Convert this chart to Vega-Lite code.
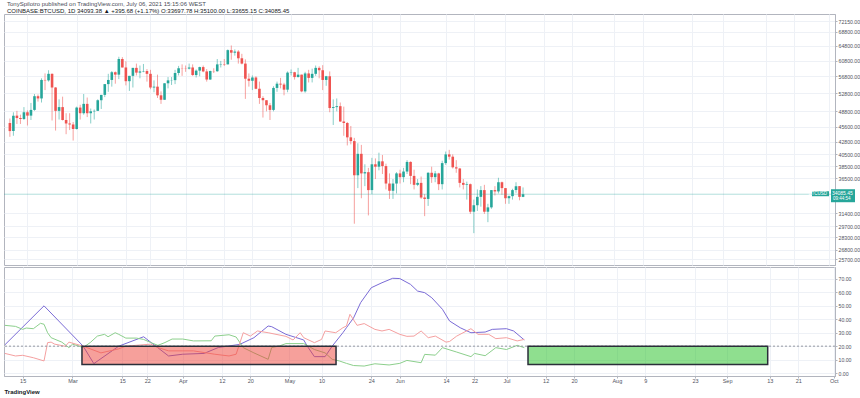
{
  "$schema": "https://vega.github.io/schema/vega-lite/v6.json",
  "background": "white",
  "padding": {"left": 2, "top": 0, "right": 0, "bottom": 0},
  "spacing": 0,
  "config": {
    "font": "Liberation Sans",
    "view": {"stroke": "#b2b5be", "strokeWidth": 1},
    "axis": {"labelFont": "Liberation Sans", "titleFont": "Liberation Sans", "gridColor": "#eef1f6", "gridWidth": 1, "domainColor": "#b2b5be", "tickColor": "#b2b5be", "labelColor": "#50535e", "labelFontSize": 5.2, "labelOverlap": false}
  },
  "title": {
    "text": "TonySpilotro published on TradingView.com, July 06, 2021 15:15:06 WEST",
    "subtitle": "COINBASE:BTCUSD, 1D  34093.38 ▲ +395.68 (+1.17%)  O:33697.78  H:35100.00  L:33655.15  C:34085.45",
    "anchor": "start",
    "frame": "group",
    "fontSize": 6,
    "subtitleFontSize": 6,
    "fontWeight": "normal",
    "color": "#4a4e59",
    "subtitleColor": "#131722",
    "offset": 0,
    "subtitlePadding": 1,
    "dx": 3
  },
  "datasets": {
    "candles": [
      {"d":"2021-02-10","o":46400,"h":47300,"l":43700,"c":44800},
      {"d":"2021-02-11","o":44800,"h":48600,"l":43900,"c":47900},
      {"d":"2021-02-12","o":47900,"h":48900,"l":46200,"c":47400},
      {"d":"2021-02-13","o":47400,"h":48100,"l":46200,"c":47200},
      {"d":"2021-02-14","o":47200,"h":49700,"l":47000,"c":48600},
      {"d":"2021-02-15","o":48600,"h":49000,"l":45900,"c":47900},
      {"d":"2021-02-16","o":47900,"h":50600,"l":47000,"c":49100},
      {"d":"2021-02-17","o":49100,"h":52600,"l":48900,"c":52100},
      {"d":"2021-02-18","o":52100,"h":52500,"l":50900,"c":51600},
      {"d":"2021-02-19","o":51600,"h":56300,"l":50700,"c":55900},
      {"d":"2021-02-20","o":55900,"h":57500,"l":53500,"c":55800},
      {"d":"2021-02-21","o":55800,"h":58300,"l":55500,"c":57400},
      {"d":"2021-02-22","o":57400,"h":57500,"l":46900,"c":54100},
      {"d":"2021-02-23","o":54100,"h":54200,"l":44900,"c":48900},
      {"d":"2021-02-24","o":48900,"h":51400,"l":47100,"c":49700},
      {"d":"2021-02-25","o":49700,"h":52000,"l":46900,"c":47000},
      {"d":"2021-02-26","o":47000,"h":48400,"l":44200,"c":46300},
      {"d":"2021-02-27","o":46300,"h":48400,"l":45000,"c":46100},
      {"d":"2021-02-28","o":46100,"h":46600,"l":43000,"c":45200},
      {"d":"2021-03-01","o":45200,"h":49800,"l":45100,"c":49600},
      {"d":"2021-03-02","o":49600,"h":50200,"l":47100,"c":48400},
      {"d":"2021-03-03","o":48400,"h":52600,"l":48100,"c":50400},
      {"d":"2021-03-04","o":50400,"h":51800,"l":47600,"c":48400},
      {"d":"2021-03-05","o":48400,"h":49400,"l":46300,"c":48800},
      {"d":"2021-03-06","o":48800,"h":49200,"l":47100,"c":48900},
      {"d":"2021-03-07","o":48900,"h":51400,"l":48900,"c":51200},
      {"d":"2021-03-08","o":51200,"h":52400,"l":49300,"c":52400},
      {"d":"2021-03-09","o":52400,"h":54900,"l":51900,"c":54900},
      {"d":"2021-03-10","o":54900,"h":57400,"l":53100,"c":55900},
      {"d":"2021-03-11","o":55900,"h":58100,"l":54300,"c":57800},
      {"d":"2021-03-12","o":57800,"h":58000,"l":55000,"c":57200},
      {"d":"2021-03-13","o":57200,"h":61800,"l":56100,"c":61200},
      {"d":"2021-03-14","o":61200,"h":61700,"l":59000,"c":59000},
      {"d":"2021-03-15","o":59000,"h":60600,"l":54600,"c":55600},
      {"d":"2021-03-16","o":55600,"h":56900,"l":53300,"c":56900},
      {"d":"2021-03-17","o":56900,"h":58900,"l":54100,"c":58900},
      {"d":"2021-03-18","o":58900,"h":60000,"l":57000,"c":57700},
      {"d":"2021-03-19","o":57700,"h":59500,"l":56300,"c":58000},
      {"d":"2021-03-20","o":58000,"h":59900,"l":57800,"c":58100},
      {"d":"2021-03-21","o":58100,"h":58600,"l":55500,"c":57400},
      {"d":"2021-03-22","o":57400,"h":58400,"l":53700,"c":54100},
      {"d":"2021-03-23","o":54100,"h":55800,"l":53000,"c":54300},
      {"d":"2021-03-24","o":54300,"h":57200,"l":51700,"c":52300},
      {"d":"2021-03-25","o":52300,"h":53200,"l":50400,"c":51300},
      {"d":"2021-03-26","o":51300,"h":55100,"l":51300,"c":55100},
      {"d":"2021-03-27","o":55100,"h":56600,"l":53900,"c":55800},
      {"d":"2021-03-28","o":55800,"h":56600,"l":54700,"c":55850},
      {"d":"2021-03-29","o":55850,"h":58400,"l":54900,"c":57600},
      {"d":"2021-03-30","o":57600,"h":59400,"l":57000,"c":58800},
      {"d":"2021-03-31","o":58800,"h":59800,"l":56900,"c":58750},
      {"d":"2021-04-01","o":58750,"h":59500,"l":57900,"c":58700},
      {"d":"2021-04-02","o":58700,"h":60000,"l":58500,"c":59000},
      {"d":"2021-04-03","o":59000,"h":59800,"l":56900,"c":57100},
      {"d":"2021-04-04","o":57100,"h":58500,"l":56500,"c":58200},
      {"d":"2021-04-05","o":58200,"h":59200,"l":56800,"c":59100},
      {"d":"2021-04-06","o":59100,"h":59500,"l":57800,"c":58000},
      {"d":"2021-04-07","o":58000,"h":58600,"l":55500,"c":56000},
      {"d":"2021-04-08","o":56000,"h":58200,"l":55900,"c":58100},
      {"d":"2021-04-09","o":58100,"h":58800,"l":57600,"c":58050},
      {"d":"2021-04-10","o":58050,"h":61200,"l":57900,"c":59800},
      {"d":"2021-04-11","o":59800,"h":60700,"l":59000,"c":59900},
      {"d":"2021-04-12","o":59900,"h":61200,"l":59400,"c":59800},
      {"d":"2021-04-13","o":59800,"h":63800,"l":59800,"c":63600},
      {"d":"2021-04-14","o":63600,"h":64900,"l":61000,"c":62900},
      {"d":"2021-04-15","o":62900,"h":63800,"l":62100,"c":63200},
      {"d":"2021-04-16","o":63200,"h":63600,"l":60000,"c":61400},
      {"d":"2021-04-17","o":61400,"h":62600,"l":59800,"c":60000},
      {"d":"2021-04-18","o":60000,"h":61100,"l":51500,"c":56200},
      {"d":"2021-04-19","o":56200,"h":57500,"l":54300,"c":55700},
      {"d":"2021-04-20","o":55700,"h":57000,"l":53500,"c":56500},
      {"d":"2021-04-21","o":56500,"h":56800,"l":53700,"c":53800},
      {"d":"2021-04-22","o":53800,"h":55500,"l":50400,"c":51700},
      {"d":"2021-04-23","o":51700,"h":52100,"l":47500,"c":51200},
      {"d":"2021-04-24","o":51200,"h":51200,"l":48800,"c":50100},
      {"d":"2021-04-25","o":50100,"h":50600,"l":47000,"c":49100},
      {"d":"2021-04-26","o":49100,"h":54400,"l":48800,"c":54000},
      {"d":"2021-04-27","o":54000,"h":55500,"l":53100,"c":55000},
      {"d":"2021-04-28","o":55000,"h":56400,"l":53900,"c":54800},
      {"d":"2021-04-29","o":54800,"h":55200,"l":52300,"c":53600},
      {"d":"2021-04-30","o":53600,"h":58000,"l":53000,"c":57700},
      {"d":"2021-05-01","o":57700,"h":58500,"l":57000,"c":57800},
      {"d":"2021-05-02","o":57800,"h":57900,"l":56000,"c":56600},
      {"d":"2021-05-03","o":56600,"h":58900,"l":56500,"c":57200},
      {"d":"2021-05-04","o":57200,"h":57200,"l":53000,"c":53200},
      {"d":"2021-05-05","o":53200,"h":57900,"l":52900,"c":57500},
      {"d":"2021-05-06","o":57500,"h":58400,"l":55300,"c":56400},
      {"d":"2021-05-07","o":56400,"h":58700,"l":55300,"c":57400},
      {"d":"2021-05-08","o":57400,"h":59500,"l":56900,"c":58900},
      {"d":"2021-05-09","o":58900,"h":59300,"l":56300,"c":58300},
      {"d":"2021-05-10","o":58300,"h":59600,"l":53500,"c":55900},
      {"d":"2021-05-11","o":55900,"h":56900,"l":54500,"c":56800},
      {"d":"2021-05-12","o":56800,"h":58000,"l":48600,"c":49500},
      {"d":"2021-05-13","o":49500,"h":51400,"l":46000,"c":49700},
      {"d":"2021-05-14","o":49700,"h":51600,"l":48800,"c":49900},
      {"d":"2021-05-15","o":49900,"h":50700,"l":46600,"c":46700},
      {"d":"2021-05-16","o":46700,"h":49800,"l":43900,"c":46400},
      {"d":"2021-05-17","o":46400,"h":46600,"l":42100,"c":43600},
      {"d":"2021-05-18","o":43600,"h":45800,"l":42300,"c":42900},
      {"d":"2021-05-19","o":42900,"h":43500,"l":30000,"c":37000},
      {"d":"2021-05-20","o":37000,"h":42500,"l":35000,"c":40600},
      {"d":"2021-05-21","o":40600,"h":42200,"l":33500,"c":37300},
      {"d":"2021-05-22","o":37300,"h":38800,"l":35300,"c":37500},
      {"d":"2021-05-23","o":37500,"h":38200,"l":31100,"c":34700},
      {"d":"2021-05-24","o":34700,"h":39900,"l":34100,"c":38800},
      {"d":"2021-05-25","o":38800,"h":39800,"l":36400,"c":38400},
      {"d":"2021-05-26","o":38400,"h":40800,"l":37800,"c":39300},
      {"d":"2021-05-27","o":39300,"h":40400,"l":37200,"c":38500},
      {"d":"2021-05-28","o":38500,"h":38900,"l":34800,"c":35700},
      {"d":"2021-05-29","o":35700,"h":37300,"l":33400,"c":34600},
      {"d":"2021-05-30","o":34600,"h":36400,"l":33400,"c":35700},
      {"d":"2021-05-31","o":35700,"h":37500,"l":34200,"c":37300},
      {"d":"2021-06-01","o":37300,"h":37900,"l":35700,"c":36700},
      {"d":"2021-06-02","o":36700,"h":38200,"l":35900,"c":37600},
      {"d":"2021-06-03","o":37600,"h":39500,"l":37200,"c":39200},
      {"d":"2021-06-04","o":39200,"h":39300,"l":35600,"c":36900},
      {"d":"2021-06-05","o":36900,"h":37900,"l":34800,"c":35500},
      {"d":"2021-06-06","o":35500,"h":36400,"l":35300,"c":35800},
      {"d":"2021-06-07","o":35800,"h":36800,"l":33400,"c":33600},
      {"d":"2021-06-08","o":33600,"h":34100,"l":31000,"c":33400},
      {"d":"2021-06-09","o":33400,"h":37500,"l":32400,"c":37400},
      {"d":"2021-06-10","o":37400,"h":38400,"l":35800,"c":36700},
      {"d":"2021-06-11","o":36700,"h":37700,"l":35900,"c":37300},
      {"d":"2021-06-12","o":37300,"h":37400,"l":34700,"c":35600},
      {"d":"2021-06-13","o":35600,"h":39400,"l":34800,"c":39000},
      {"d":"2021-06-14","o":39000,"h":41000,"l":38700,"c":40500},
      {"d":"2021-06-15","o":40500,"h":41300,"l":39600,"c":40100},
      {"d":"2021-06-16","o":40100,"h":40500,"l":38100,"c":38300},
      {"d":"2021-06-17","o":38300,"h":39500,"l":37400,"c":38100},
      {"d":"2021-06-18","o":38100,"h":38200,"l":35100,"c":35800},
      {"d":"2021-06-19","o":35800,"h":36400,"l":34800,"c":35500},
      {"d":"2021-06-20","o":35500,"h":36000,"l":33300,"c":35600},
      {"d":"2021-06-21","o":35600,"h":35700,"l":31300,"c":31600},
      {"d":"2021-06-22","o":31600,"h":33300,"l":28800,"c":32500},
      {"d":"2021-06-23","o":32500,"h":34800,"l":31700,"c":33700},
      {"d":"2021-06-24","o":33700,"h":35300,"l":32300,"c":34700},
      {"d":"2021-06-25","o":34700,"h":35500,"l":31300,"c":31600},
      {"d":"2021-06-26","o":31600,"h":32700,"l":30200,"c":32200},
      {"d":"2021-06-27","o":32200,"h":34700,"l":32000,"c":34700},
      {"d":"2021-06-28","o":34700,"h":35300,"l":33900,"c":34500},
      {"d":"2021-06-29","o":34500,"h":36600,"l":34200,"c":35900},
      {"d":"2021-06-30","o":35900,"h":36000,"l":34000,"c":35000},
      {"d":"2021-07-01","o":35000,"h":35000,"l":32700,"c":33500},
      {"d":"2021-07-02","o":33500,"h":33900,"l":32700,"c":33800},
      {"d":"2021-07-03","o":33800,"h":34900,"l":33300,"c":34700},
      {"d":"2021-07-04","o":34700,"h":35900,"l":34300,"c":35300},
      {"d":"2021-07-05","o":35300,"h":35300,"l":33200,"c":33700},
      {"d":"2021-07-06","o":33697.78,"h":35100,"l":33655.15,"c":34085.45}
    ],
    "dmi": [
      {"date":"2021-02-10","s":"ADX","v":21},
      {"date":"2021-02-21","s":"ADX","v":50},
      {"date":"2021-03-04","s":"ADX","v":20},
      {"date":"2021-03-07","s":"ADX","v":7},
      {"date":"2021-03-14","s":"ADX","v":20},
      {"date":"2021-03-21","s":"ADX","v":27},
      {"date":"2021-03-28","s":"ADX","v":12.7},
      {"date":"2021-04-01","s":"ADX","v":14},
      {"date":"2021-04-07","s":"ADX","v":14.6},
      {"date":"2021-04-11","s":"ADX","v":19},
      {"date":"2021-04-17","s":"ADX","v":21.3},
      {"date":"2021-04-21","s":"ADX","v":26.3},
      {"date":"2021-04-25","s":"ADX","v":35},
      {"date":"2021-04-26","s":"ADX","v":34.5},
      {"date":"2021-04-30","s":"ADX","v":28.8},
      {"date":"2021-05-05","s":"ADX","v":24.6},
      {"date":"2021-05-06","s":"ADX","v":20},
      {"date":"2021-05-08","s":"ADX","v":12.2},
      {"date":"2021-05-11","s":"ADX","v":12.2},
      {"date":"2021-05-13","s":"ADX","v":20},
      {"date":"2021-05-16","s":"ADX","v":30},
      {"date":"2021-05-17","s":"ADX","v":33.7},
      {"date":"2021-05-19","s":"ADX","v":41},
      {"date":"2021-05-21","s":"ADX","v":52.4},
      {"date":"2021-05-24","s":"ADX","v":63.5},
      {"date":"2021-05-27","s":"ADX","v":67.2},
      {"date":"2021-05-30","s":"ADX","v":70.5},
      {"date":"2021-06-01","s":"ADX","v":70.3},
      {"date":"2021-06-04","s":"ADX","v":66},
      {"date":"2021-06-06","s":"ADX","v":61},
      {"date":"2021-06-08","s":"ADX","v":59.8},
      {"date":"2021-06-10","s":"ADX","v":56},
      {"date":"2021-06-13","s":"ADX","v":47.4},
      {"date":"2021-06-15","s":"ADX","v":38.7},
      {"date":"2021-06-18","s":"ADX","v":33.7},
      {"date":"2021-06-21","s":"ADX","v":30},
      {"date":"2021-06-25","s":"ADX","v":30.5},
      {"date":"2021-06-27","s":"ADX","v":32.5},
      {"date":"2021-07-01","s":"ADX","v":33},
      {"date":"2021-07-03","s":"ADX","v":31.3},
      {"date":"2021-07-06","s":"ADX","v":24.6},
      {"date":"2021-02-10","s":"+DI","v":35.5},
      {"date":"2021-02-13","s":"+DI","v":34.7},
      {"date":"2021-02-15","s":"+DI","v":32.5},
      {"date":"2021-02-16","s":"+DI","v":33.5},
      {"date":"2021-02-18","s":"+DI","v":33},
      {"date":"2021-02-19","s":"+DI","v":35},
      {"date":"2021-02-20","s":"+DI","v":37},
      {"date":"2021-02-21","s":"+DI","v":36.3},
      {"date":"2021-02-22","s":"+DI","v":30},
      {"date":"2021-02-23","s":"+DI","v":26.3},
      {"date":"2021-02-26","s":"+DI","v":23},
      {"date":"2021-02-28","s":"+DI","v":18.9},
      {"date":"2021-03-01","s":"+DI","v":21.5},
      {"date":"2021-03-04","s":"+DI","v":19},
      {"date":"2021-03-06","s":"+DI","v":22.7},
      {"date":"2021-03-08","s":"+DI","v":27.5},
      {"date":"2021-03-10","s":"+DI","v":28.8},
      {"date":"2021-03-11","s":"+DI","v":27},
      {"date":"2021-03-13","s":"+DI","v":30},
      {"date":"2021-03-14","s":"+DI","v":28.8},
      {"date":"2021-03-16","s":"+DI","v":26},
      {"date":"2021-03-19","s":"+DI","v":26},
      {"date":"2021-03-21","s":"+DI","v":25},
      {"date":"2021-03-23","s":"+DI","v":22.7},
      {"date":"2021-03-25","s":"+DI","v":20.6},
      {"date":"2021-03-27","s":"+DI","v":22.7},
      {"date":"2021-03-29","s":"+DI","v":25.3},
      {"date":"2021-04-01","s":"+DI","v":25.3},
      {"date":"2021-04-04","s":"+DI","v":23.9},
      {"date":"2021-04-09","s":"+DI","v":24},
      {"date":"2021-04-10","s":"+DI","v":27.5},
      {"date":"2021-04-14","s":"+DI","v":28.5},
      {"date":"2021-04-16","s":"+DI","v":26.8},
      {"date":"2021-04-18","s":"+DI","v":18.9},
      {"date":"2021-04-21","s":"+DI","v":15},
      {"date":"2021-04-25","s":"+DI","v":10.2},
      {"date":"2021-04-26","s":"+DI","v":19},
      {"date":"2021-04-28","s":"+DI","v":20},
      {"date":"2021-04-30","s":"+DI","v":21.9},
      {"date":"2021-05-05","s":"+DI","v":21.9},
      {"date":"2021-05-06","s":"+DI","v":20.5},
      {"date":"2021-05-08","s":"+DI","v":17.5},
      {"date":"2021-05-11","s":"+DI","v":15},
      {"date":"2021-05-13","s":"+DI","v":10.2},
      {"date":"2021-05-15","s":"+DI","v":9},
      {"date":"2021-05-17","s":"+DI","v":7.2},
      {"date":"2021-05-19","s":"+DI","v":5.6},
      {"date":"2021-05-22","s":"+DI","v":5.2},
      {"date":"2021-05-25","s":"+DI","v":6.9},
      {"date":"2021-05-29","s":"+DI","v":6},
      {"date":"2021-06-01","s":"+DI","v":7.2},
      {"date":"2021-06-03","s":"+DI","v":9.4},
      {"date":"2021-06-07","s":"+DI","v":7.7},
      {"date":"2021-06-08","s":"+DI","v":13.9},
      {"date":"2021-06-11","s":"+DI","v":13.3},
      {"date":"2021-06-13","s":"+DI","v":18.9},
      {"date":"2021-06-17","s":"+DI","v":15.6},
      {"date":"2021-06-21","s":"+DI","v":12.2},
      {"date":"2021-06-22","s":"+DI","v":14.6},
      {"date":"2021-06-25","s":"+DI","v":12.9},
      {"date":"2021-06-28","s":"+DI","v":18.9},
      {"date":"2021-07-01","s":"+DI","v":17.5},
      {"date":"2021-07-04","s":"+DI","v":20.6},
      {"date":"2021-07-06","s":"+DI","v":18.9},
      {"date":"2021-02-10","s":"-DI","v":14.6},
      {"date":"2021-02-13","s":"-DI","v":12.7},
      {"date":"2021-02-15","s":"-DI","v":13.2},
      {"date":"2021-02-18","s":"-DI","v":11.4},
      {"date":"2021-02-21","s":"-DI","v":9},
      {"date":"2021-02-22","s":"-DI","v":22.6},
      {"date":"2021-02-23","s":"-DI","v":23},
      {"date":"2021-02-24","s":"-DI","v":21.5},
      {"date":"2021-02-27","s":"-DI","v":19.9},
      {"date":"2021-02-28","s":"-DI","v":23},
      {"date":"2021-03-02","s":"-DI","v":21.5},
      {"date":"2021-03-04","s":"-DI","v":20},
      {"date":"2021-03-09","s":"-DI","v":15},
      {"date":"2021-03-14","s":"-DI","v":18},
      {"date":"2021-03-16","s":"-DI","v":20},
      {"date":"2021-03-23","s":"-DI","v":21.5},
      {"date":"2021-03-25","s":"-DI","v":19},
      {"date":"2021-03-28","s":"-DI","v":16.5},
      {"date":"2021-04-01","s":"-DI","v":16.5},
      {"date":"2021-04-04","s":"-DI","v":16.5},
      {"date":"2021-04-10","s":"-DI","v":14},
      {"date":"2021-04-14","s":"-DI","v":12.7},
      {"date":"2021-04-16","s":"-DI","v":14},
      {"date":"2021-04-18","s":"-DI","v":30},
      {"date":"2021-04-20","s":"-DI","v":27.5},
      {"date":"2021-04-22","s":"-DI","v":31.3},
      {"date":"2021-04-25","s":"-DI","v":30},
      {"date":"2021-04-30","s":"-DI","v":27.3},
      {"date":"2021-05-02","s":"-DI","v":24.6},
      {"date":"2021-05-04","s":"-DI","v":30},
      {"date":"2021-05-05","s":"-DI","v":26.3},
      {"date":"2021-05-08","s":"-DI","v":22.6},
      {"date":"2021-05-10","s":"-DI","v":25},
      {"date":"2021-05-11","s":"-DI","v":31.3},
      {"date":"2021-05-14","s":"-DI","v":30},
      {"date":"2021-05-16","s":"-DI","v":33.7},
      {"date":"2021-05-17","s":"-DI","v":35},
      {"date":"2021-05-18","s":"-DI","v":43.7},
      {"date":"2021-05-20","s":"-DI","v":35.5},
      {"date":"2021-05-22","s":"-DI","v":36.8},
      {"date":"2021-05-25","s":"-DI","v":32.5},
      {"date":"2021-05-27","s":"-DI","v":31.3},
      {"date":"2021-05-29","s":"-DI","v":32.5},
      {"date":"2021-06-01","s":"-DI","v":28.8},
      {"date":"2021-06-03","s":"-DI","v":27.3},
      {"date":"2021-06-05","s":"-DI","v":27.5},
      {"date":"2021-06-07","s":"-DI","v":31.3},
      {"date":"2021-06-09","s":"-DI","v":26.3},
      {"date":"2021-06-11","s":"-DI","v":27.5},
      {"date":"2021-06-14","s":"-DI","v":23},
      {"date":"2021-06-15","s":"-DI","v":23.5},
      {"date":"2021-06-17","s":"-DI","v":27.5},
      {"date":"2021-06-21","s":"-DI","v":33},
      {"date":"2021-06-23","s":"-DI","v":28.8},
      {"date":"2021-06-26","s":"-DI","v":28.8},
      {"date":"2021-06-28","s":"-DI","v":25.6},
      {"date":"2021-07-01","s":"-DI","v":26.3},
      {"date":"2021-07-04","s":"-DI","v":23.9},
      {"date":"2021-07-06","s":"-DI","v":25}
    ],
    "zones": [
      {"start":"2021-03-03T16:00:00Z","end":"2021-05-14T02:00:00Z","hi":20,"lo":6.3,"zone":"bear"},
      {"start":"2021-07-07T01:00:00Z","end":"2021-09-12T10:00:00Z","hi":20,"lo":6.3,"zone":"bull"}
    ],
    "threshold": [{"level": 20}],
    "last": [
      {"symbol":"BTCUSD","price":34085.45,"countdown":"09:44:54"}
    ]
  },
  "vconcat": [
    {
      "width": 831,
      "height": 251,
      "layer": [
        {
          "data": {"name": "candles"},
          "mark": {"type": "rule", "strokeWidth": 1, "opacity": 0.55},
          "encoding": {
            "x": {"field": "d", "type": "temporal",
              "scale": {"type": "utc", "domain": [{"year": 2021, "month": 2, "date": 9, "hours": 18, "utc": true}, {"year": 2021, "month": 10, "date": 1, "hours": 8, "utc": true}], "nice": false},
              "axis": {"title": null, "labels": false, "ticks": false, "domain": false, "grid": true, "minExtent": 0, "maxExtent": 0, "offset": 0, "tickCount": 100,
                "values": [{"year":2021,"month":2,"date":15,"utc":true},{"year":2021,"month":3,"date":1,"utc":true},{"year":2021,"month":3,"date":15,"utc":true},{"year":2021,"month":3,"date":22,"utc":true},{"year":2021,"month":4,"date":1,"utc":true},{"year":2021,"month":4,"date":12,"utc":true},{"year":2021,"month":4,"date":20,"utc":true},{"year":2021,"month":5,"date":1,"utc":true},{"year":2021,"month":5,"date":10,"utc":true},{"year":2021,"month":5,"date":24,"utc":true},{"year":2021,"month":6,"date":1,"utc":true},{"year":2021,"month":6,"date":14,"utc":true},{"year":2021,"month":6,"date":22,"utc":true},{"year":2021,"month":7,"date":1,"utc":true},{"year":2021,"month":7,"date":12,"utc":true},{"year":2021,"month":7,"date":20,"utc":true},{"year":2021,"month":8,"date":1,"utc":true},{"year":2021,"month":8,"date":9,"utc":true},{"year":2021,"month":8,"date":23,"utc":true},{"year":2021,"month":9,"date":1,"utc":true},{"year":2021,"month":9,"date":13,"utc":true},{"year":2021,"month":9,"date":21,"utc":true},{"year":2021,"month":10,"date":1,"utc":true}]}},
            "y": {"field": "l", "type": "quantitative", "scale": {"type": "log", "domain": [25090, 74370], "nice": false},
              "axis": {"orient": "right", "title": null, "format": ".2f", "tickCount": 100, "values": [72150, 68800, 64800, 60800, 56800, 52800, 48800, 45600, 42800, 40500, 38500, 36500, 31400, 29700, 28300, 26800, 25700], "tickSize": 2, "labelPadding": 1, "grid": true}},
            "y2": {"field": "h"},
            "color": {"condition": {"test": "datum.c >= datum.o", "value": "#26a69a"}, "value": "#ef5350"}
          }
        },
        {
          "data": {"name": "candles"},
          "mark": {"type": "bar", "size": 2.6},
          "encoding": {
            "x": {"field": "d", "type": "temporal"},
            "y": {"field": "o", "type": "quantitative"},
            "y2": {"field": "c"},
            "color": {"condition": {"test": "datum.c >= datum.o", "value": "#26a69a"}, "value": "#ef5350"}
          }
        },
        {
          "data": {"name": "last"},
          "mark": {"type": "rule", "color": "#26a69a", "opacity": 0.35, "strokeWidth": 1},
          "encoding": {
            "y": {"field": "price", "type": "quantitative"}
          }
        },
        {
          "data": {"name": "last"},
          "mark": {"type": "rect", "color": "#26a69a", "xOffset": -18, "x2Offset": -1, "yOffset": -3, "y2Offset": 2},
          "encoding": {
            "x": {"datum": {"year": 2021, "month": 10, "date": 1, "hours": 8, "utc": true}, "type": "temporal"},
            "x2": {"datum": {"year": 2021, "month": 10, "date": 1, "hours": 8, "utc": true}},
            "y": {"field": "price", "type": "quantitative"},
            "y2": {"field": "price"}
          }
        },
        {
          "data": {"name": "last"},
          "mark": {"type": "rect", "color": "#26a69a", "xOffset": 1, "x2Offset": 25, "yOffset": -5, "y2Offset": 8},
          "encoding": {
            "x": {"datum": {"year": 2021, "month": 10, "date": 1, "hours": 8, "utc": true}, "type": "temporal"},
            "x2": {"datum": {"year": 2021, "month": 10, "date": 1, "hours": 8, "utc": true}},
            "y": {"field": "price", "type": "quantitative"},
            "y2": {"field": "price"}
          }
        },
        {
          "data": {"name": "last"},
          "mark": {"type": "text", "color": "white", "fontSize": 4.5, "align": "right", "baseline": "middle", "dx": -3, "dy": -0.5},
          "encoding": {
            "x": {"datum": {"year": 2021, "month": 10, "date": 1, "hours": 8, "utc": true}, "type": "temporal"},
            "y": {"field": "price", "type": "quantitative"},
            "text": {"field": "symbol"}
          }
        },
        {
          "data": {"name": "last"},
          "mark": {"type": "text", "color": "white", "fontSize": 5, "align": "left", "baseline": "middle", "dx": 2, "dy": -1.5},
          "encoding": {
            "x": {"datum": {"year": 2021, "month": 10, "date": 1, "hours": 8, "utc": true}, "type": "temporal"},
            "y": {"field": "price", "type": "quantitative"},
            "text": {"field": "price", "format": ".2f"}
          }
        },
        {
          "data": {"name": "last"},
          "mark": {"type": "text", "color": "white", "fontSize": 4.5, "align": "left", "baseline": "middle", "dx": 3, "dy": 4.5},
          "encoding": {
            "x": {"datum": {"year": 2021, "month": 10, "date": 1, "hours": 8, "utc": true}, "type": "temporal"},
            "y": {"field": "price", "type": "quantitative"},
            "text": {"field": "countdown"}
          }
        }
      ]
    },
    {
      "width": 831,
      "height": 109,
      "layer": [
        {
          "data": {"name": "dmi"},
          "mark": {"type": "line", "strokeWidth": 1},
          "encoding": {
            "x": {"field": "date", "type": "temporal",
              "scale": {"type": "utc", "domain": [{"year": 2021, "month": 2, "date": 9, "hours": 18, "utc": true}, {"year": 2021, "month": 10, "date": 1, "hours": 8, "utc": true}], "nice": false},
              "axis": {"title": "TradingView", "titleAnchor": "start", "titleFontSize": 6, "titleFontWeight": "bold", "titleColor": "#131722", "titlePadding": 5, "labelPadding": 0, "tickSize": 2, "grid": true, "labelOverlap": false, "labelFontSize": 5.5, "labelFlush": false, "tickCount": 100,
                "labelExpr": "utcdate(datum.value) == 1 ? utcFormat(datum.value, '%b') : utcFormat(datum.value, '%-d')",
                "values": [{"year":2021,"month":2,"date":15,"utc":true},{"year":2021,"month":3,"date":1,"utc":true},{"year":2021,"month":3,"date":15,"utc":true},{"year":2021,"month":3,"date":22,"utc":true},{"year":2021,"month":4,"date":1,"utc":true},{"year":2021,"month":4,"date":12,"utc":true},{"year":2021,"month":4,"date":20,"utc":true},{"year":2021,"month":5,"date":1,"utc":true},{"year":2021,"month":5,"date":10,"utc":true},{"year":2021,"month":5,"date":24,"utc":true},{"year":2021,"month":6,"date":1,"utc":true},{"year":2021,"month":6,"date":14,"utc":true},{"year":2021,"month":6,"date":22,"utc":true},{"year":2021,"month":7,"date":1,"utc":true},{"year":2021,"month":7,"date":12,"utc":true},{"year":2021,"month":7,"date":20,"utc":true},{"year":2021,"month":8,"date":1,"utc":true},{"year":2021,"month":8,"date":9,"utc":true},{"year":2021,"month":8,"date":23,"utc":true},{"year":2021,"month":9,"date":1,"utc":true},{"year":2021,"month":9,"date":13,"utc":true},{"year":2021,"month":9,"date":21,"utc":true},{"year":2021,"month":10,"date":1,"utc":true}]}},
            "y": {"field": "v", "type": "quantitative", "scale": {"domain": [-2.2, 78.9], "nice": false, "zero": false},
              "axis": {"orient": "right", "title": null, "format": ".2f", "values": [0, 10, 20, 30, 40, 50, 60, 70], "tickCount": 100, "tickSize": 2, "labelPadding": 1, "grid": true, "labelOverlap": false, "labelFlush": false}},
            "color": {"field": "s", "type": "nominal", "scale": {"domain": ["ADX", "+DI", "-DI"], "range": ["#7a6bd6", "#8ccf8c", "#f5a0a0"]}, "legend": null}
          }
        },
        {
          "data": {"name": "threshold"},
          "mark": {"type": "rule", "color": "#9598a1", "strokeDash": [2, 2], "strokeWidth": 1},
          "encoding": {
            "y": {"field": "level", "type": "quantitative"}
          }
        },
        {
          "data": {"name": "zones"},
          "mark": {"type": "rect", "fillOpacity": 0.5, "stroke": "#2a2e39", "strokeWidth": 1.5},
          "encoding": {
            "x": {"field": "start", "type": "temporal"},
            "x2": {"field": "end"},
            "y": {"field": "hi", "type": "quantitative"},
            "y2": {"field": "lo"},
            "fill": {"condition": {"test": "datum.zone == 'bear'", "value": "#ed4137"}, "value": "#20c020"}
          }
        }
      ]
    }
  ]
}
